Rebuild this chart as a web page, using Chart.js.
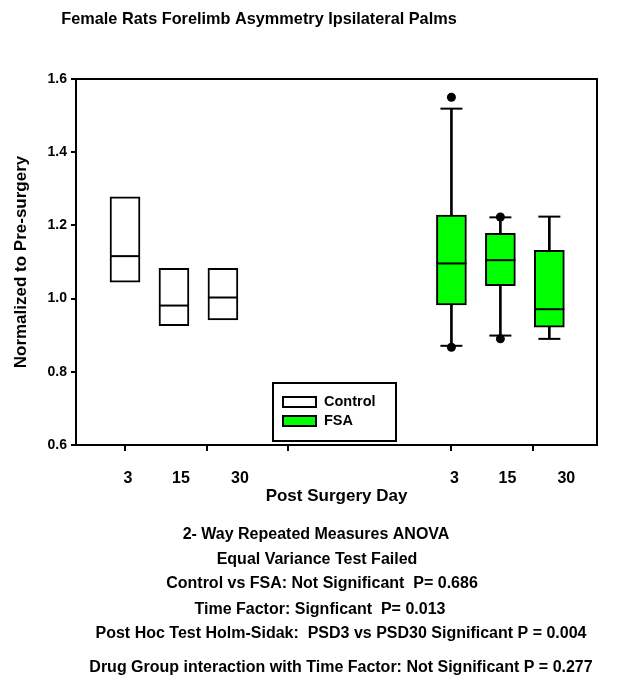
<!DOCTYPE html>
<html>
<head>
<meta charset="utf-8">
<script src="https://cdn.jsdelivr.net/npm/chart.js@4/dist/chart.umd.min.js"></script>
<style>
  html, body { margin: 0; padding: 0; background: #fff; }
  canvas { display: block; }
</style>
</head>
<body>
<canvas id="chart" width="644" height="698"></canvas>
<script>
// data
const days        = ["3", "15", "30"]
const controlPos  = [1, 1.6, 2.2]
const fsaPos      = [5, 5.6, 6.2]
const xTickPos    = [1, 2, 3, 5, 6]

const controlQ1     = [1.045, 0.926, 0.942]
const controlMedian = [1.116, 0.981, 1.003]
const controlQ3     = [1.278, 1.083, 1.083]

const fsaQ1          = [0.983, 1.035, 0.922]
const fsaMedian      = [1.096, 1.105, 0.971]
const fsaQ3          = [1.228, 1.178, 1.132]
const fsaWhiskerLow  = [0.871, 0.899, 0.890]
const fsaWhiskerHigh = [1.519, 1.222, 1.224]
const fsaOutliers    = [[1.550, 0.867], [1.223, 0.890], []]

const title = "Female Rats Forelimb Asymmetry Ipsilateral Palms"
const statsLines = [
  "2- Way Repeated Measures ANOVA",
  "Equal Variance Test Failed",
  "Control vs FSA: Not Significant  P= 0.686",
  "Time Factor: Signficant  P= 0.013",
  "Post Hoc Test Holm-Sidak:  PSD3 vs PSD30 Significant P = 0.004",
  "Drug Group interaction with Time Factor: Not Significant P = 0.277"
]

const GREEN = "#00ff00"
const FONT  = "'Liberation Sans', Arial, sans-serif"

const boxData = (pos, lo, hi) => pos.map((x, i) => ({ x, y: [lo[i], hi[i]] }))
const ptData  = (pos, v) => pos.map((x, i) => ({ x, y: v[i] }))

// free text, legend and frame
const decorations = {
  id: "decorations",
  afterDraw(chart) {
    const { ctx, chartArea: a, scales: { x } } = chart
    ctx.save()
    ctx.strokeStyle = "#000"
    ctx.lineWidth = 2
    ctx.strokeRect(a.left, a.top, a.right - a.left, a.bottom - a.top)

    ctx.fillStyle = "#000"
    ctx.textAlign = "center"
    ctx.textBaseline = "middle"
    ctx.font = `bold 16.3px ${FONT}`
    ctx.fillText(title, 259, 20)

    // day labels under each group
    const offs = [3, 7, 17]
    ctx.font = `bold 16px ${FONT}`
    ;[controlPos, fsaPos].forEach(pos => {
      pos.forEach((p, i) => ctx.fillText(days[i], x.getPixelForValue(p) + offs[i], 479))
    })

    // legend
    ctx.lineWidth = 2
    ctx.strokeRect(273, 383, 123, 58)
    ctx.fillStyle = "#fff"
    ctx.fillRect(283, 397, 33, 10)
    ctx.strokeRect(283, 397, 33, 10)
    ctx.fillStyle = GREEN
    ctx.fillRect(283, 416, 33, 10)
    ctx.strokeRect(283, 416, 33, 10)
    ctx.fillStyle = "#000"
    ctx.textAlign = "left"
    ctx.font = `bold 14.5px ${FONT}`
    ctx.fillText("Control", 324, 402)
    ctx.fillText("FSA", 324, 421)

    // stats block
    ctx.textAlign = "center"
    ctx.font = `bold 16px ${FONT}`
    const ys = [535, 560, 584, 610, 634, 668]
    const xs = [316, 317, 322, 320, 341, 341]
    statsLines.forEach((t, i) => ctx.fillText(t, xs[i], ys[i]))
    ctx.restore()
  }
}

new Chart(document.getElementById("chart"), {
  type: "bar",
  data: {
    datasets: [
      {
        label: "Control",
        data: boxData(controlPos, controlQ1, controlQ3),
        backgroundColor: "#fff",
        borderColor: "#000",
        borderWidth: 2,
        borderSkipped: false,
        barThickness: 30,
        grouped: false,
        order: 2
      },
      {
        label: "FSA",
        data: boxData(fsaPos, fsaQ1, fsaQ3),
        backgroundColor: GREEN,
        borderColor: "#000",
        borderWidth: 2,
        borderSkipped: false,
        barThickness: 30,
        grouped: false,
        order: 2
      },
      {
        label: "whiskers",
        data: boxData(fsaPos, fsaWhiskerLow, fsaWhiskerHigh),
        backgroundColor: "#000",
        borderWidth: 0,
        barThickness: 2,
        grouped: false,
        order: 3
      },
      {
        type: "scatter",
        label: "medians",
        data: ptData(controlPos, controlMedian).concat(ptData(fsaPos, fsaMedian)),
        pointStyle: "line",
        radius: 15,
        borderColor: "#000",
        borderWidth: 2,
        order: 1
      },
      {
        type: "scatter",
        label: "caps",
        data: ptData(fsaPos, fsaWhiskerLow).concat(ptData(fsaPos, fsaWhiskerHigh)),
        pointStyle: "line",
        radius: 11,
        borderColor: "#000",
        borderWidth: 2,
        order: 1
      },
      {
        type: "scatter",
        label: "outliers",
        data: fsaPos.flatMap((x, i) => fsaOutliers[i].map(y => ({ x, y }))),
        pointStyle: "circle",
        radius: 4.5,
        backgroundColor: "#000",
        borderColor: "#000",
        borderWidth: 0,
        order: 0
      }
    ]
  },
  options: {
    responsive: false,
    animation: false,
    layout: { padding: { left: 0, top: 79, right: 47, bottom: 187 } },
    plugins: {
      legend:  { display: false },
      tooltip: { enabled: false }
    },
    scales: {
      x: {
        type: "linear",
        offset: false,
        min: 0.3995,
        max: 6.784,
        afterBuildTicks: s => { s.ticks = xTickPos.map(value => ({ value })) },
        afterFit: s => { s.height = 66 },
        ticks:  { display: false },
        grid:   { offset: false, drawOnChartArea: false, tickLength: 6, color: "#000", lineWidth: 2 },
        border: { color: "#000", width: 2 },
        title: {
          display: true,
          text: "Post Surgery Day",
          color: "#000",
          font: { family: FONT, size: 17, weight: "bold" },
          padding: { top: 0, bottom: 4 }
        }
      },
      y: {
        min: 0.6,
        max: 1.6,
        afterFit: s => { s.width = 76 },
        ticks: {
          stepSize: 0.2,
          color: "#000",
          padding: 4,
          font: { family: FONT, size: 14, weight: "bold" },
          callback: v => v.toFixed(1)
        },
        grid:   { drawOnChartArea: false, tickLength: 5, color: "#000", lineWidth: 2 },
        border: { color: "#000", width: 2 },
        title: {
          display: true,
          text: "Normalized to Pre-surgery",
          color: "#000",
          font: { family: FONT, size: 17, weight: "bold" },
          padding: { top: 11, bottom: 0 }
        }
      }
    }
  },
  plugins: [decorations]
})
</script>
</body>
</html>
